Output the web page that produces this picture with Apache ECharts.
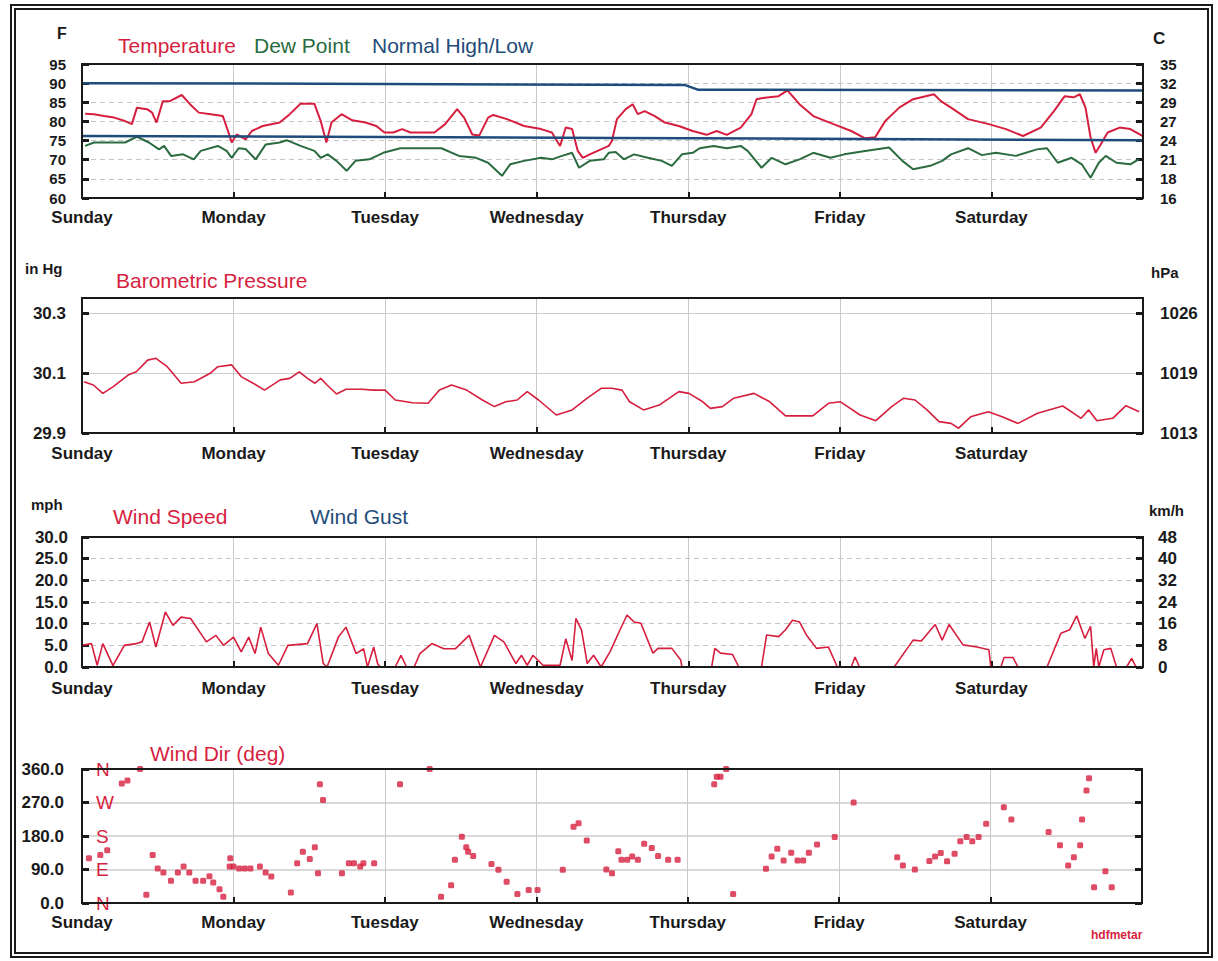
<!DOCTYPE html>
<html>
<head>
<meta charset="utf-8">
<script src="https://cdn.jsdelivr.net/npm/echarts@6.0.0/dist/echarts.min.js"></script>
<style>
html,body{margin:0;padding:0;background:#fff;}
#chart{position:absolute;left:0;top:0;width:1218px;height:961px;}
#frame{position:absolute;left:10px;top:4px;width:1191px;height:942px;border:6px double #1a1a1a;pointer-events:none;}
</style>
</head>
<body>
<div id="chart"></div>
<div id="frame"></div>
<script>
// ---------- DATA (x = hours since Sunday 00:00) ----------
const dayLabels = ['Sunday','Monday','Tuesday','Wednesday','Thursday','Friday','Saturday'];

const temperature = [[0.5,82.0],[1.9,81.9],[3.5,81.4],[5.1,81.0],[6.8,80.1],[7.9,79.3],[8.7,83.6],[10.3,83.2],[11.1,82.3],[11.8,79.7],[12.8,85.3],[13.9,85.3],[15.8,86.9],[17.1,84.5],[18.5,82.3],[20.4,81.9],[22.3,81.4],[23.2,77.1],[23.7,74.5],[24.5,76.6],[25.9,75.3],[26.9,77.5],[28.6,78.8],[31.3,79.7],[32.9,81.9],[34.6,84.6],[36.2,84.6],[36.8,84.6],[37.8,80.1],[38.7,74.5],[39.5,79.7],[41.1,81.9],[42.8,80.3],[44.9,79.7],[46.6,78.8],[47.9,77.1],[49.3,77.1],[50.7,78.0],[52.0,77.1],[55.8,77.1],[57.5,79.3],[59.4,83.2],[60.5,81.0],[61.8,76.6],[62.9,76.3],[64.3,81.0],[65.1,81.7],[67.3,80.6],[70.0,78.8],[72.7,78.0],[74.4,77.1],[75.7,73.6],[76.6,78.4],[77.6,78.0],[78.5,72.3],[79.3,70.5],[80.4,71.4],[83.4,73.6],[83.9,74.9],[84.7,80.6],[86.1,83.2],[87.2,84.5],[88.0,81.9],[89.1,82.7],[90.7,81.4],[92.3,79.7],[94.5,78.8],[96.7,77.5],[98.9,76.5],[100.5,77.5],[102.1,76.5],[104.3,78.4],[106.0,81.9],[106.8,85.8],[108.1,86.2],[110.3,86.6],[111.7,88.1],[113.6,84.5],[115.8,81.4],[119.0,79.3],[121.8,77.5],[124.0,75.6],[125.6,75.9],[127.2,80.1],[129.4,83.6],[131.6,85.8],[134.9,87.1],[136.0,85.3],[137.6,83.6],[140.3,80.6],[143.6,79.3],[146.3,78.0],[149.0,76.2],[151.8,78.4],[153.9,82.7],[155.6,86.6],[157.0,86.3],[158.0,87.1],[158.9,83.6],[159.7,75.8],[160.5,71.8],[161.3,74.0],[162.4,77.1],[164.3,78.4],[166.0,78.0],[167.9,76.2]];

const dewPoint = [[0.5,73.6],[1.9,74.5],[6.8,74.5],[8.7,76.0],[10.6,74.5],[12.2,72.7],[13.0,73.6],[14.1,71.0],[16.0,71.4],[17.7,70.1],[18.8,72.3],[21.5,73.6],[22.9,72.3],[23.7,70.5],[24.8,73.0],[25.9,72.8],[27.5,70.1],[29.1,74.0],[31.3,74.5],[32.4,75.1],[34.6,73.6],[36.8,72.3],[37.8,70.5],[38.9,71.4],[40.3,69.7],[41.9,67.1],[43.3,69.7],[45.5,70.1],[47.7,71.8],[50.4,73.0],[56.9,73.0],[59.7,71.0],[62.4,70.5],[64.3,69.2],[66.5,65.8],[67.8,68.8],[70.0,69.7],[72.7,70.5],[74.4,70.1],[76.0,71.0],[77.6,71.8],[78.7,67.9],[80.4,69.7],[82.6,70.1],[83.4,71.8],[84.5,72.0],[85.8,70.1],[87.4,71.4],[89.6,70.5],[91.8,69.7],[93.4,68.4],[95.0,71.4],[96.7,71.8],[97.8,73.0],[100.0,73.6],[102.1,73.0],[104.3,73.6],[105.4,72.3],[107.6,67.9],[109.2,70.5],[111.4,68.8],[113.6,70.1],[115.8,71.8],[118.5,70.5],[120.7,71.4],[124.0,72.3],[127.8,73.2],[129.9,69.7],[131.6,67.5],[134.3,68.4],[136.2,69.7],[137.6,71.4],[140.3,73.0],[142.5,71.2],[144.7,71.8],[147.9,71.0],[151.2,72.7],[152.8,73.0],[154.5,69.2],[156.7,70.5],[158.3,68.8],[159.7,65.3],[161.0,69.2],[162.1,71.0],[163.8,69.2],[166.0,68.8],[167.3,70.1]];

const normalHigh = [[0,90.0],[48,89.8],[95.5,89.5],[97.5,88.3],[168,88.1]];
const normalLow = [[0,76.2],[84,75.7],[168,75.1]];

const pressure = [[0.3,30.071],[1.8,30.06],[3.3,30.032],[4.9,30.054],[7.3,30.093],[8.6,30.104],[10.4,30.143],[11.7,30.149],[13.5,30.121],[15.7,30.066],[17.8,30.071],[20.3,30.099],[21.5,30.121],[23.7,30.127],[25.2,30.088],[27.1,30.066],[28.9,30.043],[31.4,30.077],[32.9,30.082],[34.4,30.104],[35.7,30.082],[36.9,30.066],[37.8,30.082],[38.8,30.06],[40.3,30.03],[41.8,30.046],[44.3,30.046],[46.2,30.043],[48.0,30.043],[49.6,30.01],[52.3,30.001],[54.8,29.999],[56.6,30.043],[58.5,30.06],[60.9,30.043],[63.4,30.01],[65.3,29.988],[67.1,30.004],[68.9,30.01],[70.5,30.038],[72.3,30.01],[75.1,29.96],[77.6,29.977],[80.0,30.016],[82.2,30.049],[83.9,30.049],[85.5,30.043],[86.7,30.004],[88.9,29.977],[91.4,29.993],[94.5,30.038],[96.1,30.032],[98.3,30.004],[99.5,29.982],[101.4,29.988],[103.2,30.016],[106.4,30.032],[108.9,30.004],[111.4,29.957],[115.7,29.957],[118.2,29.999],[120.1,30.004],[123.2,29.96],[125.7,29.941],[128.2,29.988],[130.1,30.016],[131.9,30.01],[133.8,29.977],[135.7,29.938],[137.6,29.932],[138.8,29.916],[140.7,29.954],[143.5,29.971],[145.7,29.954],[148.2,29.932],[151.3,29.966],[155.3,29.99],[158.2,29.949],[159.4,29.977],[160.7,29.941],[163.2,29.949],[165.3,29.991],[167.4,29.971]];

const windSpeed = [[0,5.0],[1.5,5.4],[2.4,0.4],[3.3,5.4],[4.9,0.3],[6.7,5.0],[8.6,5.4],[9.5,5.8],[10.7,10.4],[11.7,4.6],[13.2,12.7],[14.4,9.6],[15.7,11.5],[17.2,11.2],[19.7,5.8],[21.2,7.3],[22.4,5.0],[24.0,6.9],[25.2,3.5],[26.4,6.9],[27.4,3.1],[28.3,9.2],[29.5,3.1],[31.1,0.4],[32.6,5.0],[35.7,5.4],[37.2,10.0],[38.2,0.8],[38.8,0],[40.6,6.9],[41.8,9.2],[43.4,3.1],[44.6,4.2],[45.2,0],[46.2,4.6],[46.8,0.8],[47.2,0],[49.6,0],[50.5,2.7],[51.4,0],[52.6,0],[53.5,3.1],[55.4,5.4],[57.3,4.2],[59.1,4.2],[61.3,7.3],[63.1,0],[65.3,7.3],[66.8,5.8],[68.7,0.8],[69.6,2.7],[70.5,0.4],[71.4,2.7],[73.0,0.4],[75.7,0.4],[76.6,6.5],[77.6,1.5],[78.2,11.2],[79.1,8.5],[80.0,0.8],[81.0,2.7],[82.2,0],[83.6,3.5],[85.2,8.6],[86.3,12.0],[87.4,10.4],[88.5,10.1],[90.4,3.2],[91.2,4.3],[93.4,4.3],[94.8,1.6],[95.0,0],[99.7,0],[100.2,4.3],[101.1,3.2],[103.0,2.9],[104.0,0],[107.6,0],[108.4,7.4],[110.3,7.0],[111.4,8.6],[112.5,10.8],[113.6,10.4],[114.7,7.4],[116.3,4.3],[118.2,4.6],[119.6,0],[121.8,0],[122.4,2.3],[123.1,0],[128.6,0],[131.6,6.2],[132.9,6.0],[135.1,9.8],[136.2,6.2],[137.3,9.8],[139.5,5.1],[141.7,4.6],[143.6,4.0],[143.9,0],[145.5,0],[146.0,2.2],[147.4,2.2],[148.2,0],[152.8,0],[155.0,7.8],[156.4,8.6],[157.5,11.8],[158.8,6.6],[159.7,9.4],[160.2,0],[160.6,4.3],[161.0,0],[161.8,4.0],[162.9,4.3],[163.8,0],[165.4,0],[166.2,2.0],[166.9,0],[168,0]];

const windGust = [];

const windDir = [[1.1,120],[2.9,129],[4.0,142],[6.3,321],[7.2,329],[9.2,360],[10.2,22],[11.2,129],[12.0,93],[12.9,82],[14.1,60],[15.2,82],[16.1,98],[17.0,82],[18.0,60],[19.2,60],[20.2,72],[20.8,55],[21.8,37],[22.4,17],[23.4,98],[23.5,120],[24.0,98],[24.9,93],[25.8,93],[26.7,93],[28.2,98],[29.1,82],[30.0,71],[33.1,28],[34.1,107],[35.0,138],[36.1,118],[36.9,150],[37.4,80],[37.7,319],[38.2,277],[41.2,80],[42.3,107],[43.1,107],[44.1,98],[44.6,107],[46.3,107],[50.4,319],[55.1,360],[56.9,17],[58.5,48],[59.1,116],[60.2,178],[60.9,150],[61.2,138],[62.0,126],[64.9,105],[66.0,89],[67.3,57],[69.0,24],[70.8,35],[72.2,35],[76.2,89],[77.9,205],[78.7,214],[80.0,168],[83.1,90],[84.0,80],[85.0,139],[85.5,116],[86.4,116],[87.2,125],[88.1,116],[89.1,159],[90.3,148],[91.3,126],[92.9,116],[94.4,116],[100.2,319],[100.6,339],[101.2,339],[102.1,360],[103.2,24],[108.4,92],[109.3,125],[110.2,146],[111.2,114],[112.4,135],[113.4,114],[114.3,114],[115.2,135],[116.5,157],[119.3,177],[122.3,270],[129.2,123],[130.1,101],[132.0,90],[134.3,113],[135.2,125],[136.1,134],[137.1,112],[138.3,132],[139.2,166],[140.2,177],[141.1,166],[142.1,177],[143.3,213],[146.1,257],[147.3,224],[153.2,191],[155.0,155],[156.3,101],[157.2,123],[158.2,155],[158.5,224],[159.2,302],[159.6,335],[160.4,42],[162.2,85],[163.2,42]];

const pressureTicks = [29.9, 30.1, 30.3];
const compassLabels = {0:'N', 90:'E', 180:'S', 270:'W', 360:'N'};

// ---------- STYLE ----------
const FONT = '"Liberation Sans", Arial, sans-serif';
const RED = '#d61f3f', GREEN = '#2b6b40', NAVY = '#1f4c7a', INK = '#1a1a1a';

const chart = echarts.init(document.getElementById('chart'), null, {renderer: 'svg'});

function mkX(gi, margin) {
  return {
    type: 'value', gridIndex: gi, min: 0, max: 168, interval: 24,
    axisLine: {show: false},
    axisTick: {show: true, inside: true, length: 6, lineStyle: {color: INK, width: 2}},
    splitLine: {show: true, lineStyle: {color: '#c9c9c9', width: 1}},
    axisLabel: {show: true, margin: margin, showMaxLabel: false,
      formatter: v => (v < 168 ? dayLabels[Math.round(v / 24)] : ''),
      color: INK, fontFamily: FONT, fontWeight: 'bold', fontSize: 17}
  };
}
function mkY(gi, pos, o) {
  const base = {
    type: 'value', gridIndex: gi, position: pos,
    axisLine: {show: false},
    axisTick: {show: true, inside: true, length: 7, lineStyle: {color: INK, width: 3}},
    axisLabel: {color: INK, fontFamily: FONT, fontWeight: 'bold', fontSize: 16, margin: 16},
    splitLine: {show: false}
  };
  for (const k in o) {
    if (typeof o[k] === 'object' && !Array.isArray(o[k]) && base[k]) base[k] = Object.assign({}, base[k], o[k]);
    else base[k] = o[k];
  }
  return base;
}
function mkLegend(name, left, top, color) {
  return {data: [{name: name, icon: 'none'}], left: left, top: top, padding: 0,
    itemWidth: 0, itemHeight: 20, itemGap: 0, selectedMode: false,
    textStyle: {color: color, fontSize: 21, fontFamily: FONT}};
}
function txt(text, left, top, size, color) {
  return {type: 'text', left: left, top: top,
    style: {text: text, fill: color || INK, fontSize: size, fontWeight: 'bold', fontFamily: FONT}};
}

const gridBase = {show: true, borderColor: INK, borderWidth: 2, backgroundColor: 'transparent', z: 5};

const option = {
  backgroundColor: '#fff',
  animation: false,
  grid: [
    Object.assign({left: 82, right: 75, top: 64, height: 134}, gridBase),
    Object.assign({left: 82, right: 75, top: 298, height: 135}, gridBase),
    Object.assign({left: 82, right: 75, top: 537, height: 130}, gridBase),
    Object.assign({left: 82, right: 76, top: 769, height: 134}, gridBase)
  ],
  xAxis: [mkX(0, 11), mkX(1, 12), mkX(2, 13), mkX(3, 11)],
  yAxis: [
    mkY(0, 'left', {min: 60, max: 95, interval: 5,
      axisLabel: {fontSize: 15, margin: 16},
      splitLine: {show: true, lineStyle: {color: '#c4c4c4', type: [5, 4], width: 1}}}),
    mkY(0, 'right', {min: 60, max: 95, interval: 5,
      axisLabel: {fontSize: 15, margin: 17, formatter: v => String(Math.round((v - 32) * 5 / 9))}}),
    mkY(1, 'left', {min: 29.9, max: 30.35,
      axisLabel: {fontSize: 17, margin: 16, customValues: pressureTicks, formatter: v => v.toFixed(1)},
      axisTick: {customValues: pressureTicks},
      splitLine: {show: true, lineStyle: {color: '#cccccc', width: 1}}}),
    mkY(1, 'right', {min: 29.9, max: 30.35,
      axisLabel: {fontSize: 17, margin: 17, customValues: pressureTicks, formatter: v => String(Math.round(v * 33.8639))},
      axisTick: {customValues: pressureTicks}}),
    mkY(2, 'left', {min: 0, max: 30, interval: 5,
      axisLabel: {fontSize: 17, margin: 14, formatter: v => v.toFixed(1)},
      splitLine: {show: true, lineStyle: {color: '#c4c4c4', type: [5, 4], width: 1}}}),
    mkY(2, 'right', {min: 0, max: 30, interval: 5,
      axisLabel: {fontSize: 17, margin: 15, formatter: v => String(Math.round(v * 1.609344))}}),
    mkY(3, 'left', {min: 0, max: 360, interval: 90,
      axisLabel: {fontSize: 17, margin: 18, formatter: v => v.toFixed(1)},
      splitLine: {show: true, lineStyle: {color: '#cccccc', width: 1.5}}}),
    mkY(3, 'left', {min: 0, max: 360, interval: 90,
      axisTick: {show: false},
      axisLabel: {inside: true, margin: 14, fontSize: 19, fontWeight: 'normal', color: RED,
        formatter: v => compassLabels[v] || ''}}),
    mkY(3, 'right', {min: 0, max: 360, interval: 90, axisLabel: {show: false}})
  ],
  legend: [
    mkLegend('Temperature', 113, 35, RED),
    mkLegend('Dew Point', 249, 35, GREEN),
    mkLegend('Normal High/Low', 367, 35, NAVY),
    mkLegend('Barometric Pressure', 111, 270, RED),
    mkLegend('Wind Speed', 108, 506, RED),
    mkLegend('Wind Gust', 305, 506, NAVY),
    mkLegend('Wind Dir (deg)', 145, 743, RED)
  ],
  graphic: [
    txt('F', 57, 25, 16),
    txt('C', 1153, 30, 17),
    txt('in Hg', 25, 261, 15),
    txt('hPa', 1151, 265, 15),
    txt('mph', 31, 497, 15),
    txt('km/h', 1149, 503, 15),
    txt('hdfmetar', 1091, 929, 12, RED)
  ],
  series: [
    {name: 'Temperature', type: 'line', xAxisIndex: 0, yAxisIndex: 0, data: temperature,
      showSymbol: false, lineStyle: {color: RED, width: 2}, itemStyle: {color: RED}},
    {name: 'Dew Point', type: 'line', xAxisIndex: 0, yAxisIndex: 0, data: dewPoint,
      showSymbol: false, lineStyle: {color: GREEN, width: 2}, itemStyle: {color: GREEN}},
    {name: 'Normal High/Low', type: 'line', xAxisIndex: 0, yAxisIndex: 0, data: normalHigh,
      showSymbol: false, lineStyle: {color: NAVY, width: 2.5}, itemStyle: {color: NAVY}},
    {name: 'Normal High/Low', type: 'line', xAxisIndex: 0, yAxisIndex: 0, data: normalLow,
      showSymbol: false, lineStyle: {color: NAVY, width: 2.5}, itemStyle: {color: NAVY}},
    {name: 'Barometric Pressure', type: 'line', xAxisIndex: 1, yAxisIndex: 2, data: pressure,
      showSymbol: false, lineStyle: {color: RED, width: 1.6}, itemStyle: {color: RED}},
    {name: 'Wind Speed', type: 'line', xAxisIndex: 2, yAxisIndex: 4, data: windSpeed,
      showSymbol: false, lineStyle: {color: RED, width: 1.6}, itemStyle: {color: RED}},
    {name: 'Wind Gust', type: 'line', xAxisIndex: 2, yAxisIndex: 4, data: windGust,
      showSymbol: false, lineStyle: {color: NAVY, width: 1.6}, itemStyle: {color: NAVY}},
    {name: 'Wind Dir (deg)', type: 'scatter', xAxisIndex: 3, yAxisIndex: 6, data: windDir,
      symbol: 'roundRect', symbolSize: 6, itemStyle: {color: RED}}
  ]
};
chart.setOption(option);
</script>
</body>
</html>
